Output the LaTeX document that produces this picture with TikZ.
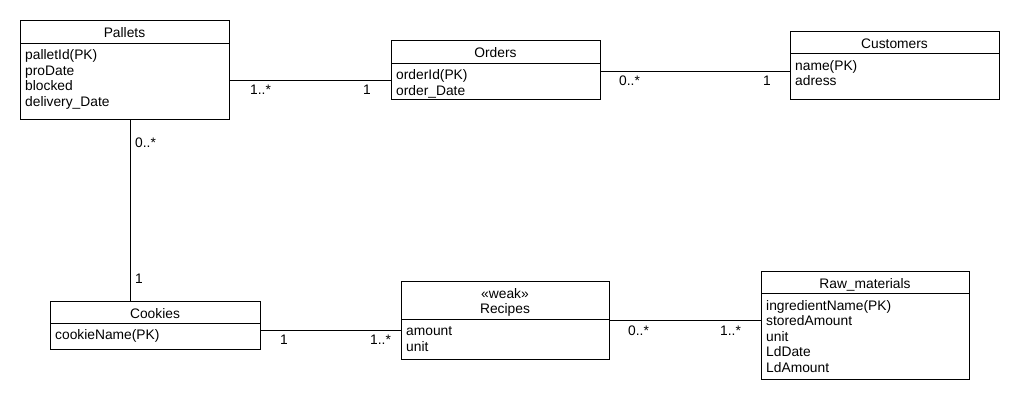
\documentclass[tikz,border=0pt]{standalone}
\usepackage{fontspec}
\setmainfont{Liberation Sans}
\tikzset{
  box/.style={draw, line width=1pt, anchor=north west, inner sep=0pt, outer sep=0pt},
  txt/.style={inner sep=0pt, font=\fontsize{13.8}{15.5}\selectfont},
  conn/.style={line width=1pt},
  mult/.style={txt, anchor=base west},
}
% name, x, y, w, h, header height, title baseline offset, title, attributes
\newcommand\mkclass[9]{%
  \node[box, minimum width=#4pt, minimum height=#5pt] (#1) at (#2,#3) {};
  \draw[conn] ([yshift=-#6pt]#1.north west) -- ([yshift=-#6pt]#1.north east);
  \node[txt, anchor=base] (#1-t) at ([yshift=-#7pt]#1.north) {#8};
  \foreach \a [count=\i, evaluate=\i as \yy using #6+16.8+(\i-1)*15.5] in {#9}
    \node[txt, anchor=base west] (#1-a\i) at ([xshift=5pt, yshift=-\yy pt]#1.north west) {\a};
}
\begin{document}
\begin{tikzpicture}[x=1pt, y=-1pt]
  \fill[white] (0,0) rectangle (1020,400);
  \useasboundingbox (0,0) rectangle (1020,400);

  \mkclass{pallets}{20}{20}{209}{99}{23}{17.8}{Pallets}{palletId(PK),proDate,blocked,delivery\_Date}
  \mkclass{orders}{391}{40}{209}{59}{23}{17.8}{Orders}{orderId(PK),order\_Date}
  \mkclass{customers}{790}{31}{209}{68}{22.5}{17.3}{Customers}{name(PK),adress}
  \mkclass{cookies}{50}{301}{210}{48}{22}{17.3}{Cookies}{cookieName(PK)}
  \mkclass{recipes}{401}{281}{208}{78}{38}{32.3}{Recipes}{amount,unit}
  \node[txt, anchor=base] (recipes-st) at ([yshift=-17.3pt]recipes.north) {«weak»};
  \mkclass{raw}{761}{271}{208}{108}{22.5}{17.3}{Raw\_materials}{ingredientName(PK),storedAmount,unit,LdDate,LdAmount}

  % connectors
  \draw[conn] ([yshift=-60pt]pallets.north east) -- ([yshift=-40pt]orders.north west);
  \draw[conn] ([yshift=-31pt]orders.north east) -- ([yshift=-40pt]customers.north west);
  \draw[conn] ([xshift=110pt]pallets.south west) -- ([xshift=80pt]cookies.north west);
  \draw[conn] ([yshift=-29.5pt]cookies.north east) -- ([yshift=-49.5pt]recipes.north west);
  \draw[conn] ([yshift=-39.5pt]recipes.north east) -- ([yshift=-49.5pt]raw.north west);

  % multiplicities
  \node[mult] (m1) at (250,94) {1..*};
  \node[mult] (m2) at (363,94) {1};
  \node[mult] (m3) at (619,85) {0..*};
  \node[mult] (m4) at (763,85) {1};
  \node[mult] (m5) at (135,147) {0..*};
  \node[mult] (m6) at (135,283) {1};
  \node[mult] (m7) at (280,344) {1};
  \node[mult] (m8) at (370,344) {1..*};
  \node[mult] (m9) at (628,335) {0..*};
  \node[mult] (m10) at (720,335) {1..*};
\end{tikzpicture}
\end{document}
